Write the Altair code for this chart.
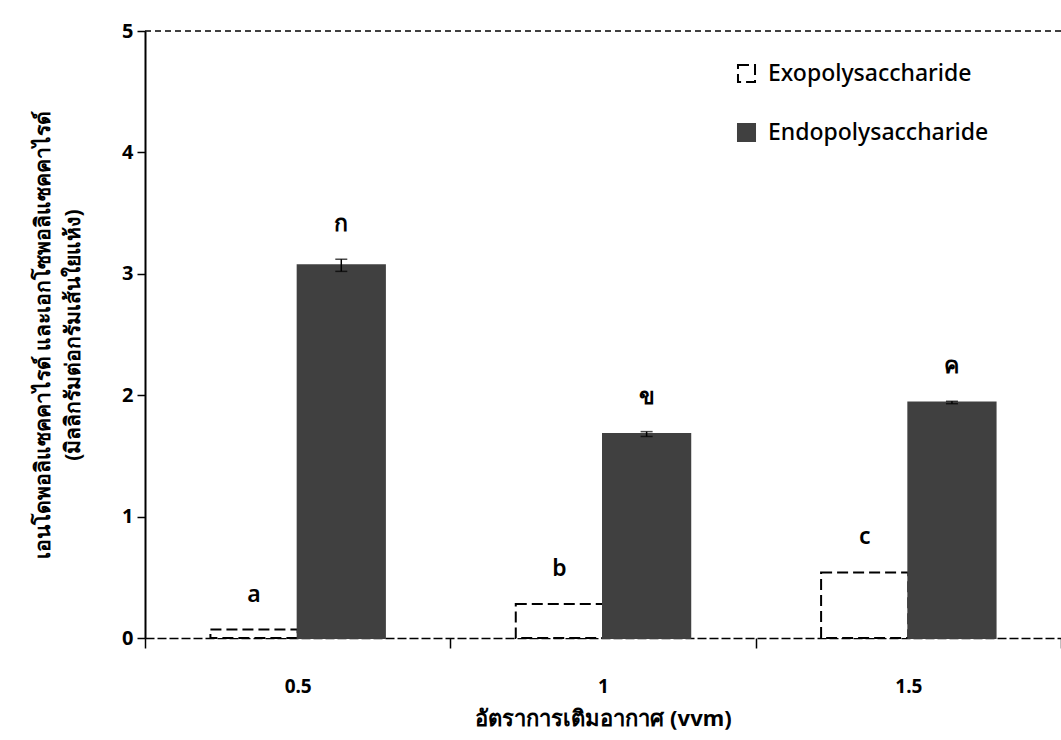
import altair as alt
import pandas as pd

# Aeration rates (vvm) and polysaccharide yields (mg per g dry mycelium)
categories = ["0.5", "1", "1.5"]
series_names = ["Exopolysaccharide", "Endopolysaccharide"]
exo_values = [0.07, 0.28, 0.54]
endo_values = [3.07, 1.68, 1.94]
exo_err = [0.0, 0.0, 0.0]
endo_err = [0.05, 0.02, 0.01]
exo_letters = ["a", "b", "c"]
endo_letters = ["ก", "ข", "ค"]

rows = []
for i, c in enumerate(categories):
    rows.append({"cat": c, "series": series_names[0], "value": exo_values[i],
                 "err": exo_err[i], "letter": exo_letters[i]})
    rows.append({"cat": c, "series": series_names[1], "value": endo_values[i],
                 "err": endo_err[i], "letter": endo_letters[i]})
df = pd.DataFrame(rows)
df["lo"] = df["value"] - df["err"]
df["hi"] = df["value"] + df["err"]

FONT = "Noto Sans"

x_enc = alt.X(
    "cat:N", sort=categories,
    scale=alt.Scale(paddingInner=0, paddingOuter=0),
    axis=alt.Axis(
        title="อัตราการเติมอากาศ (vvm)", labelAngle=0, tickBand="extent",
        tickSize=10, tickColor="black", tickWidth=1.5,
        domainColor="black", domainWidth=1.5, domainDash=[9, 3],
        labelFont=FONT, labelFontSize=19, labelFontWeight="bold", labelColor="black",
        labelPadding=29,
        titleFont=FONT, titleFontSize=22, titleFontWeight="bold", titleColor="black",
        titlePadding=12,
    ),
)
xo_enc = alt.XOffset(
    "series:N", sort=series_names,
    scale=alt.Scale(domain=series_names, paddingInner=0, paddingOuter=0.75),
)
y_scale = alt.Scale(domain=[0, 5], nice=False)
y_axis = alt.Axis(
    title=["เอนโดพอลิแซคคาไรด์ และเอกโซพอลิแซคคาไรด์", "(มิลลิกรัมต่อกรัมเส้นใยแห้ง)"],
    values=[0, 1, 2, 3, 4, 5], format="d", grid=False,
    tickSize=8, tickColor="black", tickWidth=1.5,
    domainColor="black", domainWidth=2,
    labelFont=FONT, labelFontSize=20, labelFontWeight="bold", labelColor="black",
    labelPadding=4,
    titleFont=FONT, titleFontSize=21, titleFontWeight="bold", titleColor="black",
    titlePadding=38, titleLineHeight=30,
)

base = alt.Chart(df).encode(x=x_enc, xOffset=xo_enc)

bars = base.mark_bar(strokeWidth=2).encode(
    y=alt.Y("value:Q", scale=y_scale, axis=y_axis),
    fill=alt.Fill("series:N", sort=series_names,
                  scale=alt.Scale(domain=series_names, range=["white", "#404040"]),
                  legend=alt.Legend(title=None)),
    stroke=alt.Stroke("series:N", sort=series_names,
                      scale=alt.Scale(domain=series_names, range=["black", "#404040"]),
                      legend=alt.Legend(title=None)),
    strokeDash=alt.StrokeDash("series:N", sort=series_names,
                              scale=alt.Scale(domain=series_names, range=[[11, 5], [1, 0]]),
                              legend=alt.Legend(title=None)),
)

err_data = base.transform_filter(alt.datum.err > 0)
err_rule = err_data.mark_rule(color="black", strokeWidth=1.5).encode(
    y="lo:Q", y2="hi:Q")
err_lo = err_data.mark_tick(color="black", size=12, thickness=1.5, orient="horizontal").encode(y="lo:Q")
err_hi = err_data.mark_tick(color="black", size=12, thickness=1.5, orient="horizontal").encode(y="hi:Q")

letters = base.mark_text(font=FONT, fontSize=23, fontWeight=600, color="black",
                         baseline="middle", dy=-35).encode(
    y="hi:Q", text="letter:N")

top_frame = alt.Chart(pd.DataFrame({"top": [5]})).mark_rule(
    color="black", strokeWidth=1.5, strokeDash=[6, 4]).encode(y="top:Q")

chart = alt.layer(bars, err_rule, err_lo, err_hi, letters, top_frame).properties(
    width=916, height=607,
    padding={"left": 145, "top": 31, "right": 0, "bottom": 102},
    autosize=alt.AutoSizeParams(type="none"),
).configure_view(stroke=None).configure_legend(
    orient="none", legendX=590, legendY=31,
    symbolType="square", symbolSize=290, symbolStrokeWidth=2,
    labelFont=FONT, labelFontSize=23, labelColor="black", labelFontWeight=500,
    labelLimit=0, rowPadding=32, labelOffset=10,
)

chart.save("out.html", embed_options={"renderer": "svg", "actions": False})
